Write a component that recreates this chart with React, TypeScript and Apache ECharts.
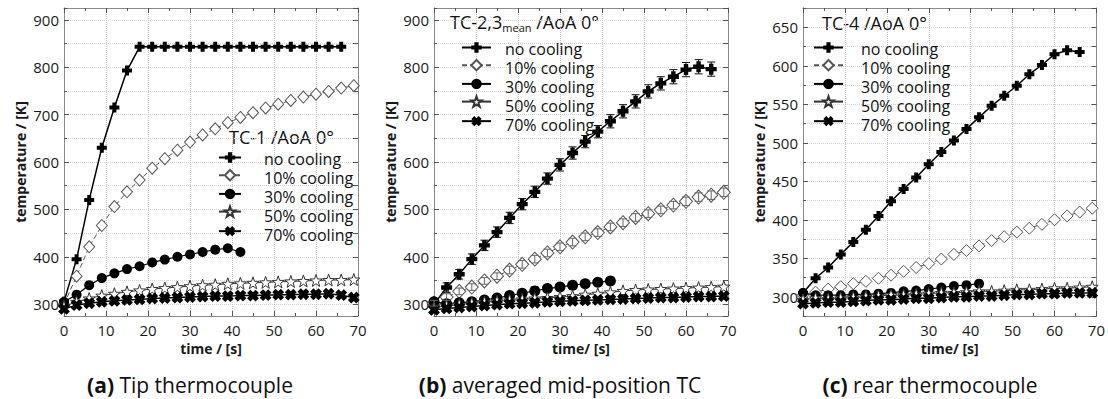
import React, { useEffect, useRef } from "react";
import * as echarts from "echarts";

// time stamps [s]
const T = [0, 3, 6, 9, 12, 15, 18, 21, 24, 27, 30, 33, 36, 39, 42, 45, 48, 51, 54, 57, 60, 63, 66, 69];
const NAMES = ["no cooling", "10% cooling", "30% cooling", "50% cooling", "70% cooling"];

// (a) Tip thermocouple TC-1
const aNo = [305, 395, 520, 630, 715, 793, 843, 843, 843, 843, 843, 843, 843, 843, 843, 843, 843, 843, 843, 843, 843, 843, 843];
const a10 = [300, 359, 421, 466, 506, 537, 562, 587, 607, 625, 642, 657, 670, 683, 694, 704, 714, 722, 730, 737, 743, 749, 756, 761];
const a30 = [305, 320, 340, 355, 365, 374, 380, 388, 394, 400, 405, 410, 415, 418, 410];
const a50 = [295, 305, 312, 318, 322, 326, 329, 332, 334, 336, 338, 340, 341, 343, 344, 345, 346, 347, 348, 349, 350, 351, 351, 352];
const a70 = [290, 298, 302, 305, 307, 309, 310, 312, 313, 314, 315, 316, 317, 317, 318, 318, 319, 320, 320, 321, 321, 322, 319, 314];

// (b) averaged mid-position TC-2,3
const bNo = [300, 335, 363, 395, 424, 452, 482, 511, 537, 565, 594, 619, 643, 664, 686, 707, 728, 749, 766, 780, 795, 801, 796];
const bNoErr = [8, 10, 10, 11, 11, 11, 12, 12, 12, 12, 13, 13, 13, 13, 14, 14, 14, 14, 14, 15, 15, 15, 15];
const b10 = [302, 315, 327, 336, 349, 359, 372, 384, 395, 408, 421, 431, 442, 451, 463, 472, 483, 491, 499, 509, 517, 526, 530, 536];
const b10Err = [6, 7, 7, 7, 7, 7, 8, 8, 8, 8, 8, 8, 8, 8, 8, 8, 8, 8, 8, 8, 9, 9, 9, 9];
const b30 = [305, 301, 303, 305, 309, 313, 318, 323, 328, 333, 336, 340, 343, 346, 349];
const b50 = [293, 296, 299, 302, 304, 306, 308, 310, 312, 313, 315, 317, 320, 322, 325, 328, 330, 331, 332, 333, 334, 335, 336, 337];
const b70 = [288, 291, 293, 295, 297, 299, 301, 302, 303, 305, 306, 307, 308, 309, 310, 311, 312, 313, 314, 314, 315, 316, 316, 317];

// (c) rear thermocouple TC-4
const cNo = [305, 324, 338, 355, 371, 387, 405, 424, 440, 455, 472, 488, 503, 518, 533, 548, 561, 574, 589, 601, 615, 620, 618];
const c10 = [302, 306, 310, 313, 317, 320, 324, 328, 333, 338, 343, 349, 355, 360, 366, 373, 378, 384, 389, 394, 400, 405, 410, 415];
const c30 = [305, 302, 302, 302, 303, 303, 304, 305, 307, 308, 310, 312, 314, 315, 317];
const c50 = [296, 298, 297, 298, 299, 300, 301, 302, 302, 303, 304, 305, 305, 306, 307, 307, 308, 309, 309, 310, 311, 311, 312, 313];
const c70 = [291, 292, 293, 293, 294, 295, 296, 296, 297, 298, 298, 299, 300, 300, 301, 301, 302, 303, 303, 304, 304, 305, 305, 305];

const FONT = "'Open Sans', 'Noto Sans', sans-serif";
const PLUS = "path://M3,0h4v3h3v4h-3v3h-4v-3h-3v-4h3z";
const STAR =
  "path://M10,0L12.35,6.76L19.51,6.91L13.8,11.24L15.88,18.09L10,14L4.12,18.09L6.2,11.24L0.49,6.91L7.65,6.76Z";

const STY = [
  { symbol: PLUS, rotate: 0, fill: "#000", border: "#000", bw: 0, line: "#000", lw: 1.5, type: "solid" as any },
  { symbol: "diamond", rotate: 0, fill: "#fff", border: "#555", bw: 1, line: "#555", lw: 1, type: [5, 3] as any },
  { symbol: "circle", rotate: 0, fill: "#000", border: "#000", bw: 0, line: "#000", lw: 1.2, type: "solid" as any },
  { symbol: STAR, rotate: 0, fill: "#fff", border: "#333", bw: 1, line: "#333", lw: 1, type: "solid" as any },
  { symbol: PLUS, rotate: 45, fill: "#000", border: "#000", bw: 0, line: "#000", lw: 1.5, type: "solid" as any },
];

const PANELS = [
  {
    left: 64, data: [aNo, a10, a30, a50, a70], sizes: [10, [11, 12], 10, 12, 12], yMin: 275, yMax: 925, major: 100, minor: 50,
    xName: "time / [s]", caption: "Tip thermocouple", tag: "(a)", capX: 190,
    legend: { left: 213, top: 146, w: 22, text: 259 },
  },
  {
    left: 434, data: [bNo, b10, b30, b50, b70], sizes: [11, [13, 14], 11, 12, 12], yMin: 275, yMax: 925, major: 100, minor: 50,
    xName: "time/ [s]", caption: "averaged mid-position TC", tag: "(b)", capX: 560,
    legend: { left: 456, top: 36, w: 29, text: 500 },
  },
  {
    left: 803, data: [cNo, c10, c30, c50, c70], sizes: [10, [12, 12], 10, 12, 12], yMin: 275, yMax: 675, major: 50, minor: 25,
    xName: "time/ [s]", caption: "rear thermocouple", tag: "(c)", capX: 930,
    legend: { left: 808, top: 36, w: 29, text: 856 },
  },
];

const GRID_TOP = 8;
const GRID_H = 308;
const GRID_W = 294;

function buildOption() {
  const grid: any[] = [];
  const xAxis: any[] = [];
  const yAxis: any[] = [];
  const series: any[] = [];
  const legend: any[] = [];
  const axisLine = { show: true, onZero: false, lineStyle: { color: "#8a8a8a", width: 1 } };
  const tick = { show: true, inside: true, length: 5, lineStyle: { color: "#555" } };

  PANELS.forEach((p, i) => {
    grid.push({ left: p.left, top: GRID_TOP, width: GRID_W, height: GRID_H, containLabel: false });
    xAxis.push({
      type: "value", gridIndex: i, min: 0, max: 70, interval: 10, position: "bottom",
      axisLine, axisTick: tick,
      minorTick: { show: true, splitNumber: 2, length: 3, lineStyle: { color: "#555" } },
      splitLine: { show: true, lineStyle: { color: "#c4c4c4", type: "dotted" } },
      axisLabel: { fontSize: 15, color: "#1a1a1a", fontFamily: FONT, margin: 6 },
      name: p.xName, nameLocation: "middle", nameGap: 24,
      nameTextStyle: { fontSize: 14, fontWeight: "bold", fontFamily: FONT, color: "#1a1a1a" },
    });
    xAxis.push({
      type: "value", gridIndex: i, min: 0, max: 70, interval: 10, position: "top",
      axisLine, axisTick: tick,
      minorTick: { show: true, splitNumber: 2, length: 3, lineStyle: { color: "#555" } },
      splitLine: { show: false }, axisLabel: { show: false },
    });
    yAxis.push({
      type: "value", gridIndex: i, min: p.yMin, max: p.yMax, minInterval: p.major, maxInterval: p.major, splitNumber: 6,
      position: "left", axisLine, axisTick: tick, splitLine: { show: false },
      axisLabel: { fontSize: 15, color: "#1a1a1a", fontFamily: FONT, margin: 5, showMinLabel: false, showMaxLabel: false },
      name: "temperature / [K]", nameLocation: "middle", nameGap: 37,
      nameTextStyle: { fontSize: 14, fontWeight: "bold", fontFamily: FONT, color: "#1a1a1a" },
    });
    yAxis.push({
      type: "value", gridIndex: i, min: p.yMin, max: p.yMax, minInterval: p.minor, maxInterval: p.minor, splitNumber: 12,
      position: "left", axisLine, axisTick: { ...tick, length: 3 },
      splitLine: { show: true, lineStyle: { color: "#d4d4d4", type: "dotted" } },
      axisLabel: { show: false },
    });
    yAxis.push({
      type: "value", gridIndex: i, min: p.yMin, max: p.yMax, minInterval: p.minor, maxInterval: p.minor, splitNumber: 12,
      position: "right", axisLine, axisTick: tick, splitLine: { show: false }, axisLabel: { show: false },
    });

    p.data.forEach((arr, k) => {
      const s = STY[k];
      series.push({
        type: "line", name: NAMES[k], xAxisIndex: 2 * i, yAxisIndex: 3 * i,
        data: arr.map((v, j) => [T[j], v]),
        symbol: s.symbol, symbolSize: p.sizes[k], symbolRotate: s.rotate,
        itemStyle: { color: s.fill, borderColor: s.border, borderWidth: s.bw },
        lineStyle: { color: s.line, width: s.lw, type: s.type },
        z: 3 + k, silent: true,
      });
    });

    // icons only (no text): height 13 + gap 6 = 19 per row
    legend.push({
      orient: "vertical", top: p.legend.top, left: p.legend.left, itemWidth: p.legend.w,
      itemHeight: 13, itemGap: 6, data: NAMES, selectedMode: false,
      formatter: () => "",
      textStyle: { fontSize: 16, fontFamily: FONT },
    });
    // texts only (icons invisible): text height 16 + gap 3 = 19 per row
    legend.push({
      orient: "vertical", top: p.legend.top, left: p.legend.text - 5, itemWidth: 0, icon: "rect",
      itemHeight: 13, itemGap: 3, data: NAMES, selectedMode: false,
      itemStyle: { color: "rgba(0,0,0,0)", borderWidth: 0 },
      textStyle: { fontSize: 16, fontFamily: FONT, color: "#111", lineHeight: 16 },
    });
  });

  const errSeries = (vals: number[], errs: number[], color: string) => ({
    type: "custom", xAxisIndex: 2, yAxisIndex: 3, silent: true, z: 10,
    data: vals.map((v, j) => [T[j], v, errs[j]]),
    encode: { x: 0, y: 1 },
    renderItem: (_params: any, api: any) => {
      const x = api.value(0), y = api.value(1), e = api.value(2);
      const top = api.coord([x, y + e]);
      const bot = api.coord([x, y - e]);
      const w = 4;
      const style = { stroke: color, lineWidth: 1 };
      return {
        type: "group",
        children: [
          { type: "line", shape: { x1: top[0], y1: top[1], x2: bot[0], y2: bot[1] }, style },
          { type: "line", shape: { x1: top[0] - w, y1: top[1], x2: top[0] + w, y2: top[1] }, style },
          { type: "line", shape: { x1: bot[0] - w, y1: bot[1], x2: bot[0] + w, y2: bot[1] }, style },
        ],
      };
    },
  });
  series.push(errSeries(bNo, bNoErr, "#111"));
  series.push(errSeries(b10, b10Err, "#666"));

  const graphic: any[] = [
    { type: "text", x: 229, y: 137, style: { text: "TC-1 /AoA 0°", fontSize: 18, fontFamily: FONT, fill: "#111", verticalAlign: "middle" } },
    {
      type: "text", x: 450, y: 22,
      style: {
        text: "{a|TC-2,3}{s|mean}{a| /AoA 0°}", fontFamily: FONT, fill: "#111", verticalAlign: "middle",
        rich: {
          a: { fontSize: 18, fontFamily: FONT, lineHeight: 22, fill: "#111" },
          s: { fontSize: 11, fontFamily: FONT, lineHeight: 11, verticalAlign: "bottom", fill: "#111" },
        },
      },
    },
    { type: "text", x: 822, y: 23, style: { text: "TC-4 /AoA 0°", fontSize: 18, fontFamily: FONT, fill: "#111", verticalAlign: "middle" } },
  ];
  PANELS.forEach((p) => {
    graphic.push({
      type: "text", x: p.capX, y: 385,
      style: {
        text: `{b|${p.tag}} {n|${p.caption}}`, align: "center", verticalAlign: "middle", fontFamily: FONT, fontSize: 21, fill: "#111",
        rich: {
          b: { fontSize: 21, fontWeight: "bold", fontFamily: FONT, fill: "#111", lineHeight: 24 },
          n: { fontSize: 21, fontFamily: FONT, fill: "#111", lineHeight: 24 },
        },
      },
    });
  });

  return { animation: false, backgroundColor: "#fff", grid, xAxis, yAxis, series, legend, graphic };
}

export default function App() {
  const ref = useRef<HTMLDivElement>(null);
  useEffect(() => {
    document.body.style.margin = "0";
    if (!ref.current) return;
    const chart = echarts.init(ref.current, undefined, { renderer: "svg" });
    chart.setOption(buildOption() as any);
    return () => chart.dispose();
  }, []);
  return <div ref={ref} style={{ width: 1108, height: 399 }} />;
}
